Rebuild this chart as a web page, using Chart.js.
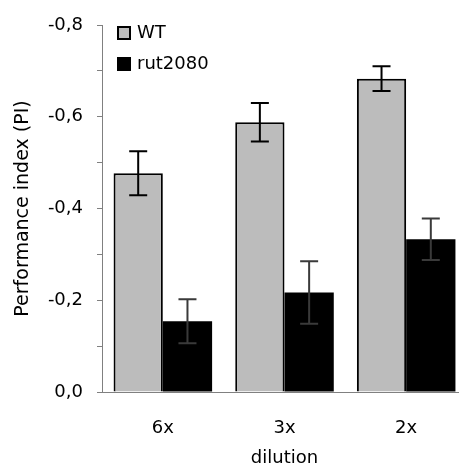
<!DOCTYPE html>
<html>
<head>
<meta charset="utf-8">
<script src="https://cdn.jsdelivr.net/npm/chart.js@4"></script>
<style>
  html, body { margin: 0; padding: 0; background: #fff; overflow: hidden; }
  canvas { display: block; }
</style>
</head>
<body>
<canvas id="myChart" width="470" height="467"></canvas>
<script>
const dilutions = ['6x', '3x', '2x'];
const wtPI = [-0.477, -0.588, -0.683];
const wtErr = [0.048, 0.042, 0.027];
const rutPI = [-0.154, -0.217, -0.333];
const rutErr = [0.048, 0.068, 0.045];
const yTickValues = [0, -0.2, -0.4, -0.6, -0.8];
const yTickLabels = ['0,0', '-0,2', '-0,4', '-0,6', '-0,8'];

const font = { family: '"DejaVu Sans", sans-serif', size: 18 };

// mean +/- error whiskers on top of each bar
const errorBars = {
    id: 'errorBars',
    afterDatasetsDraw(chart) {
        const { ctx, scales: { y } } = chart;
        chart.data.datasets.forEach((ds, i) => {
            const meta = chart.getDatasetMeta(i);
            ctx.save();
            ctx.strokeStyle = ds.errorColor;
            ctx.lineWidth = 2;
            meta.data.forEach((bar, j) => {
                const hi = y.getPixelForValue(ds.data[j] - ds.errors[j]);
                const lo = y.getPixelForValue(ds.data[j] + ds.errors[j]);
                ctx.beginPath();
                ctx.moveTo(bar.x, hi);
                ctx.lineTo(bar.x, lo);
                ctx.moveTo(bar.x - 9, hi);
                ctx.lineTo(bar.x + 9, hi);
                ctx.moveTo(bar.x - 9, lo);
                ctx.lineTo(bar.x + 9, lo);
                ctx.stroke();
            });
            ctx.restore();
        });
    }
};

// small legend in the top left corner of the plot
const insideLegend = {
    id: 'insideLegend',
    afterDraw(chart) {
        const { ctx, chartArea } = chart;
        ctx.save();
        ctx.font = '18px "DejaVu Sans", sans-serif';
        ctx.textBaseline = 'middle';
        chart.data.datasets.forEach((ds, i) => {
            const x = chartArea.left + 15;
            const y = chartArea.top + 1 + i * 31;
            ctx.fillStyle = ds.backgroundColor;
            ctx.fillRect(x, y, 14, 14);
            ctx.lineWidth = 2;
            ctx.strokeStyle = '#000';
            ctx.strokeRect(x + 1, y + 1, 12, 12);
            ctx.fillStyle = '#000';
            ctx.fillText(ds.label, x + 20, y + 7);
        });
        ctx.restore();
    }
};

// only every second tick (0.2 steps) carries a label
function tickLabel(value) {
    const k = yTickValues.findIndex(v => Math.abs(v - value) < 1e-6);
    return k >= 0 ? yTickLabels[k] : '';
}

const ctx = document.getElementById('myChart');

new Chart(ctx, {
    type: 'bar',
    data: {
        labels: dilutions,
        datasets: [{
            label: 'WT',
            data: wtPI,
            errors: wtErr,
            errorColor: '#000',
            backgroundColor: '#bcbcbc',
            borderColor: '#000',
            borderWidth: 2,
            categoryPercentage: 0.81,
            barPercentage: 1
        }, {
            label: 'rut2080',
            data: rutPI,
            errors: rutErr,
            errorColor: '#3a3a3a',
            backgroundColor: '#000',
            borderColor: '#000',
            borderWidth: 0,
            categoryPercentage: 0.81,
            barPercentage: 1
        }]
    },
    options: {
        responsive: false,
        animation: false,
        layout: {
            padding: { top: 25, right: 3, left: 0, bottom: 0 }
        },
        scales: {
            x: {
                grid: { display: false, drawTicks: false },
                border: { display: true, color: '#808080', width: 1 },
                ticks: { color: '#000', padding: 26, font: font },
                title: {
                    display: true,
                    text: 'dilution',
                    color: '#000',
                    font: font,
                    padding: { top: 0, bottom: -2 }
                },
                afterFit: (scale) => { scale.height = 75; }
            },
            y: {
                reverse: true,
                min: -0.8,
                max: 0,
                grid: {
                    drawOnChartArea: false,
                    drawTicks: true,
                    tickLength: 5,
                    color: '#808080'
                },
                border: { color: '#808080', width: 1 },
                ticks: {
                    stepSize: 0.1,
                    autoSkip: false,
                    padding: 14,
                    color: '#000',
                    font: font,
                    callback: (value) => tickLabel(value)
                },
                title: {
                    display: true,
                    text: 'Performance index (PI)',
                    color: '#000',
                    font: { family: '"DejaVu Sans", sans-serif', size: 19 },
                    padding: { top: 12, bottom: 0 }
                },
                afterFit: (scale) => { scale.width = 102; }
            }
        },
        plugins: {
            legend: { display: false },
            tooltip: { enabled: false }
        }
    },
    plugins: [errorBars, insideLegend]
});
</script>
</body>
</html>
